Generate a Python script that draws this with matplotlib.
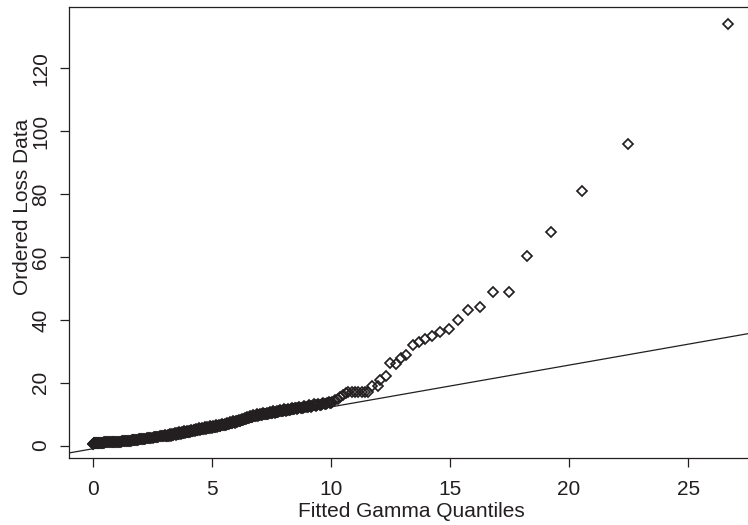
import numpy as np
import matplotlib
matplotlib.use("Agg")
from matplotlib import pyplot as plt

# Fitted gamma quantiles (x) and ordered loss data (y).
# Dense band of small losses.
band_q = [0.00, 0.02, 0.04, 0.06, 0.08, 0.10, 0.12, 0.15, 0.18, 0.21,
          0.24, 0.27, 0.30, 0.33, 0.36, 0.39, 0.42, 0.45, 0.48, 0.51,
          0.54, 0.58, 0.62, 0.66, 0.70, 0.74, 0.78, 0.82, 0.86, 0.90,
          0.94, 0.98, 1.02, 1.06, 1.10, 1.14, 1.18, 1.22, 1.26, 1.30,
          1.34, 1.38, 1.42, 1.46, 1.50, 1.54, 1.58, 1.62, 1.66, 1.70,
          1.74, 1.78, 1.82, 1.86, 1.90, 1.94, 1.98, 2.02, 2.06, 2.10,
          2.15, 2.20, 2.25, 2.30, 2.35, 2.40, 2.45, 2.50, 2.55, 2.60,
          2.65, 2.70, 2.75, 2.80, 2.85, 2.90, 2.95, 3.00, 3.05, 3.10,
          3.15, 3.20, 3.25, 3.30, 3.35, 3.40, 3.45, 3.50, 3.55, 3.60,
          3.65, 3.70, 3.75, 3.80, 3.85, 3.90, 3.95, 4.00, 4.05, 4.10,
          4.15, 4.20, 4.25, 4.30, 4.36, 4.42, 4.48, 4.54, 4.60, 4.66,
          4.72, 4.78, 4.84, 4.90, 4.96, 5.02, 5.08, 5.14, 5.20, 5.26,
          5.32, 5.38, 5.44, 5.50, 5.56, 5.62, 5.68, 5.74, 5.80, 5.86,
          5.92, 5.98, 6.04, 6.10, 6.16, 6.22, 6.28, 6.34, 6.40, 6.46,
          6.52, 6.58, 6.64, 6.70, 6.77, 6.84, 6.91, 6.98, 7.05, 7.12,
          7.19, 7.26, 7.33, 7.40, 7.47, 7.54, 7.61, 7.68, 7.75, 7.82,
          7.90, 7.98, 8.06, 8.14, 8.22, 8.30, 8.38, 8.46, 8.54, 8.62,
          8.72, 8.82, 8.92, 9.02, 9.12, 9.22, 9.32, 9.42, 9.52, 9.62,
          9.73, 9.84, 9.95, 10.06, 10.17, 10.28, 10.39, 10.50, 10.62]
band_loss = [0.6, 0.6, 0.7, 0.7, 0.7, 0.7, 0.8, 0.8, 0.8, 0.8,
             0.8, 0.8, 0.9, 0.9, 0.9, 0.9, 0.9, 0.9, 1.0, 1.0,
             1.0, 1.0, 1.0, 1.0, 1.1, 1.1, 1.1, 1.1, 1.1, 1.2,
             1.2, 1.2, 1.2, 1.3, 1.3, 1.3, 1.3, 1.4, 1.4, 1.4,
             1.4, 1.5, 1.5, 1.5, 1.6, 1.6, 1.6, 1.7, 1.7, 1.7,
             1.8, 1.8, 1.8, 1.9, 1.9, 2.0, 2.0, 2.0, 2.1, 2.1,
             2.2, 2.2, 2.3, 2.3, 2.4, 2.4, 2.5, 2.5, 2.6, 2.6,
             2.7, 2.7, 2.8, 2.9, 2.9, 3.0, 3.0, 3.1, 3.1, 3.2,
             3.2, 3.3, 3.4, 3.4, 3.5, 3.6, 3.6, 3.7, 3.8, 3.8,
             3.9, 4.0, 4.0, 4.1, 4.2, 4.2, 4.3, 4.4, 4.4, 4.5,
             4.6, 4.7, 4.8, 4.9, 5.0, 5.1, 5.2, 5.3, 5.3, 5.4,
             5.5, 5.6, 5.6, 5.7, 5.8, 5.8, 5.9, 6.0, 6.1, 6.2,
             6.3, 6.4, 6.5, 6.6, 6.7, 6.8, 6.9, 7.1, 7.2, 7.3,
             7.4, 7.5, 7.7, 7.8, 7.9, 8.1, 8.2, 8.4, 8.5, 8.7,
             8.8, 9.0, 9.1, 9.2, 9.4, 9.5, 9.6, 9.7, 9.8, 9.9,
             10.0, 10.1, 10.2, 10.3, 10.4, 10.5, 10.6, 10.7, 10.8, 10.9,
             11.0, 11.1, 11.2, 11.3, 11.4, 11.5, 11.6, 11.7, 11.8, 11.9,
             12.0, 12.1, 12.3, 12.4, 12.5, 12.7, 12.8, 12.9, 13.0, 13.1,
             13.2, 13.4, 13.6, 13.9, 14.4, 14.9, 15.5, 16.0, 16.6]

# Extra points filling the band between x = 3 and x = 10 (it is solid there).
fill_q = [3.03, 3.08, 3.13, 3.18, 3.23, 3.28, 3.33, 3.38, 3.43, 3.48,
          3.53, 3.58, 3.63, 3.68, 3.73, 3.78, 3.83, 3.88, 3.93, 3.98,
          4.03, 4.08, 4.13, 4.18, 4.23, 4.28, 4.33, 4.39, 4.45, 4.51,
          4.57, 4.63, 4.69, 4.75, 4.81, 4.87, 4.93, 4.99, 5.05, 5.11,
          5.17, 5.23, 5.29, 5.35, 5.41, 5.47, 5.53, 5.59, 5.65, 5.71,
          5.77, 5.83, 5.89, 5.95, 6.01, 6.07, 6.13, 6.19, 6.25, 6.31,
          6.37, 6.43, 6.49, 6.55, 6.61, 6.67, 6.74, 6.81, 6.88, 6.95,
          7.02, 7.09, 7.16, 7.23, 7.30, 7.37, 7.44, 7.51, 7.58, 7.65,
          7.72, 7.79, 7.86, 7.94, 8.02, 8.10, 8.18, 8.26, 8.34, 8.42,
          8.50, 8.58, 8.67, 8.77, 8.87, 8.97, 9.07, 9.17, 9.27, 9.37,
          9.47, 9.57, 9.68, 9.79, 9.90, 10.01]
fill_loss = [3.4, 3.0, 3.5, 3.1, 3.7, 3.2, 3.8, 3.4, 3.9, 3.5,
             4.1, 3.6, 4.2, 3.8, 4.3, 3.9, 4.5, 4.0, 4.6, 4.2,
             4.7, 4.3, 4.9, 4.5, 5.1, 4.7, 5.3, 4.9, 5.5, 5.1,
             5.6, 5.2, 5.8, 5.4, 5.9, 5.5, 6.1, 5.6, 6.2, 5.8,
             6.4, 6.0, 6.6, 6.2, 6.8, 6.4, 7.0, 6.6, 7.2, 6.8,
             7.5, 7.1, 7.7, 7.3, 7.9, 7.6, 8.2, 7.8, 8.5, 8.1,
             8.8, 8.4, 9.1, 8.7, 9.4, 9.0, 9.6, 9.3, 9.9, 9.5,
             10.1, 9.7, 10.3, 9.9, 10.5, 10.1, 10.7, 10.3, 10.9, 10.5,
             11.1, 10.7, 11.3, 10.9, 11.5, 11.1, 11.7, 11.3, 11.9, 11.5,
             12.1, 11.7, 12.3, 11.9, 12.5, 12.2, 12.8, 12.4, 13.1, 12.7,
             13.3, 12.9, 13.5, 13.1, 13.8, 13.6]

# Upper tail, individual diamonds.
tail_q = [10.72, 10.86, 11.00, 11.14, 11.28, 11.42, 11.56,
          11.70, 11.96, 12.06, 12.29, 12.47, 12.72, 12.93, 13.14, 13.43,
          13.69, 13.95, 14.24, 14.58, 14.95, 15.34, 15.77, 16.25, 16.80,
          17.46, 18.25, 19.23, 20.53, 22.46, 26.66]
tail_loss = [17.2, 17.2, 17.2, 17.2, 17.2, 17.2, 17.2,
             19.1, 19.1, 21.0, 22.2, 26.2, 25.8, 27.9, 28.8, 32.0,
             32.8, 34.0, 35.0, 36.2, 37.0, 39.9, 43.0, 44.1, 49.0,
             49.0, 60.2, 68.0, 81.0, 96.0, 134.0]

# Reference line (intercept, slope).
line_coef = [-1.0, 1.33]

x_ticks = [0, 5, 10, 15, 20, 25]
y_ticks = [0, 20, 40, 60, 80, 100, 120]

plt.rcParams['font.family'] = ['Liberation Sans', 'DejaVu Sans']
txt_color = '#231f20'
fsize = 15

fig = plt.figure(figsize=(7.48, 5.25), dpi=100)
ax = fig.add_axes([0.0925, 0.1267, 0.914, 0.8594])

# Diamonds, open (like R pch=5).
for q, l in [(band_q, band_loss), (fill_q, fill_loss), (tail_q, tail_loss)]:
    ax.plot(q, l, linestyle='none', marker='D', markersize=4.6,
            markerfacecolor='none', markeredgecolor=txt_color, markeredgewidth=1.25)

xlim = (-1.0, 27.72)
xs = np.array(xlim)
ax.plot(xs, line_coef[0] + line_coef[1]*xs, color=txt_color, linewidth=0.9)

ax.set_xlim(*xlim)
ax.set_ylim(-4.1, 139.4)
ax.set_xticks(x_ticks)
ax.set_yticks(y_ticks)
ax.tick_params(direction='out', length=6.5, width=0.9, colors=txt_color,
               labelsize=fsize)
ax.tick_params(axis='x', pad=9)
ax.tick_params(axis='y', pad=7)
for lbl in ax.get_yticklabels():
    lbl.set_rotation(90)
    lbl.set_va('center')
for s in ax.spines.values():
    s.set_linewidth(0.9)
    s.set_color(txt_color)

ax.set_xlabel('Fitted Gamma Quantiles', fontsize=fsize, color=txt_color, va='center')
ax.set_ylabel('Ordered Loss Data', fontsize=fsize, color=txt_color, va='center')
ax.xaxis.set_label_coords(0.5, -0.1176)
ax.yaxis.set_label_coords(-0.069, 0.557)

fig.savefig('out.png', dpi=100)
